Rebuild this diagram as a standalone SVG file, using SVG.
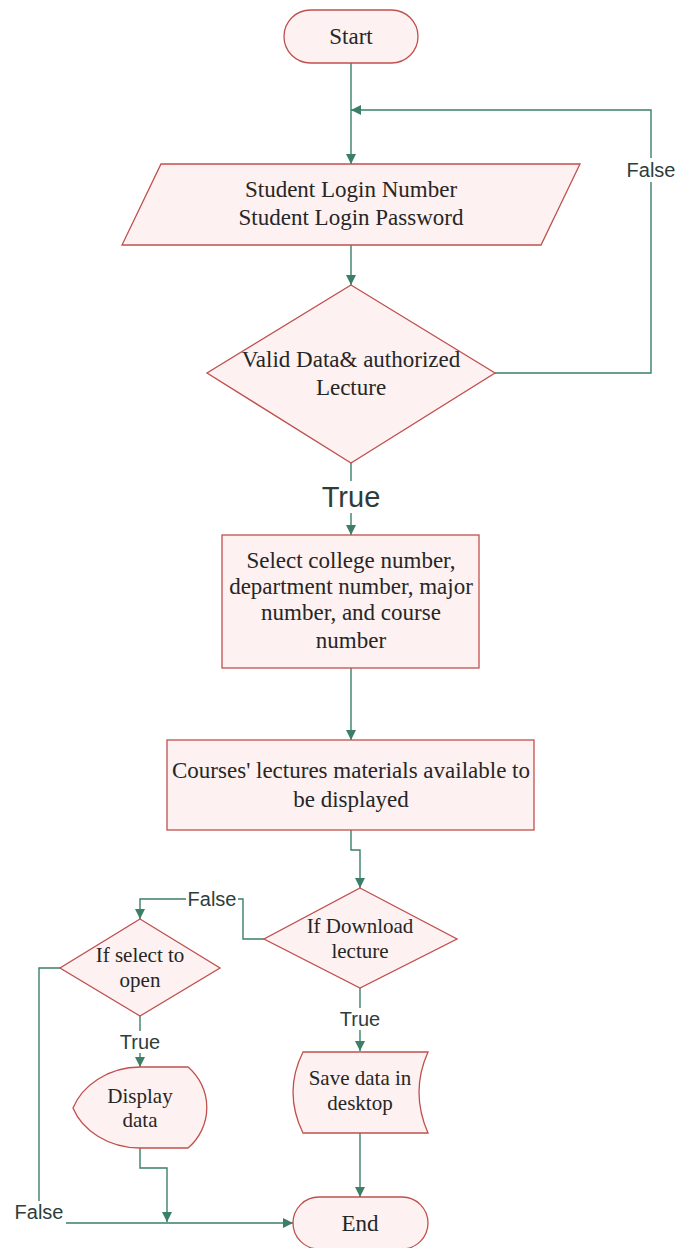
<svg xmlns="http://www.w3.org/2000/svg" width="680" height="1248" viewBox="0 0 680 1248">
  <style>
    .node { fill: #fdf1f1; stroke: #c0504d; stroke-width: 1.3; }
    .txt { font-family: "Liberation Serif", "Times New Roman", serif; font-size: 23px; fill: #262626; text-anchor: middle; }
    .sm { font-size: 21px; }
    .edge { fill: none; stroke: #3b8066; stroke-width: 1.4; }
    .lbl { font-family: "Liberation Sans", Arial, sans-serif; font-size: 20px; fill: #2e3d38; text-anchor: middle; }
    .lblbg { fill: #ffffff; }
  </style>
  <defs>
    <marker id="arrow" viewBox="0 0 10 10" refX="10" refY="5" markerWidth="10" markerHeight="10" markerUnits="userSpaceOnUse" orient="auto">
      <path d="M0,0 L10,5 L0,10 Z" fill="#3b8066"/>
    </marker>
  </defs>
  <rect width="680" height="1248" fill="#ffffff"/>

  <g id="connectors">
    <!-- Start to login input -->
    <path class="edge" d="M351,63 V164" marker-end="url(#arrow)"/>
    <!-- input to validation -->
    <path class="edge" d="M351,245 V285" marker-end="url(#arrow)"/>
    <!-- validation false loop back -->
    <path class="edge" d="M495,373 H651 V110 H351" marker-end="url(#arrow)"/>
    <!-- validation true -->
    <path class="edge" d="M351,463 V535" marker-end="url(#arrow)"/>
    <!-- select to materials -->
    <path class="edge" d="M351,668 V740" marker-end="url(#arrow)"/>
    <!-- materials to download decision -->
    <path class="edge" d="M351,830 V850 H360 V888" marker-end="url(#arrow)"/>
    <!-- download false to open decision -->
    <path class="edge" d="M264,939 H243 V899 H140 V919" marker-end="url(#arrow)"/>
    <!-- download true to save -->
    <path class="edge" d="M360,988 V1051" marker-end="url(#arrow)"/>
    <!-- save to End -->
    <path class="edge" d="M360,1133 V1197" marker-end="url(#arrow)"/>
    <!-- open true to display -->
    <path class="edge" d="M140,1016 V1067" marker-end="url(#arrow)"/>
    <!-- display to End line -->
    <path class="edge" d="M140,1148 V1168 H167 V1222" marker-end="url(#arrow)"/>
    <!-- open false to End -->
    <path class="edge" d="M60,968 H39 V1223 H293" marker-end="url(#arrow)"/>

    <!-- labels -->
    <rect class="lblbg" x="624" y="158" width="54" height="24"/>
    <text class="lbl" x="651" y="177">False</text>
    <rect class="lblbg" x="318" y="481" width="66" height="32"/>
    <text class="lbl" x="351" y="507" style="font-size:29px">True</text>
    <rect class="lblbg" x="186" y="888" width="52" height="22"/>
    <text class="lbl" x="212" y="906">False</text>
    <rect class="lblbg" x="336" y="1008" width="48" height="22"/>
    <text class="lbl" x="360" y="1026">True</text>
    <rect class="lblbg" x="116" y="1031" width="48" height="22"/>
    <text class="lbl" x="140" y="1049">True</text>
    <rect class="lblbg" x="12" y="1201" width="54" height="24"/>
    <text class="lbl" x="39" y="1219">False</text>
  </g>

  <g id="start">
    <rect class="node" x="284" y="10" width="134" height="53" rx="26.5"/>
    <text class="txt" x="351" y="44">Start</text>
  </g>

  <g id="login-input">
    <polygon class="node" points="161,164 580,164 541,245 122,245"/>
    <text class="txt" x="351" y="197">Student Login Number</text>
    <text class="txt" x="351" y="225">Student Login Password</text>
  </g>

  <g id="validate">
    <polygon class="node" points="351,285 495,373 351,463 207,373"/>
    <text class="txt" x="351" y="367">Valid Data&amp; authorized</text>
    <text class="txt" x="351" y="395">Lecture</text>
  </g>

  <g id="select-course">
    <rect class="node" x="222" y="535" width="257" height="133"/>
    <text class="txt" x="351" y="568">Select college number,</text>
    <text class="txt" x="351" y="594">department number, major</text>
    <text class="txt" x="351" y="620">number, and course</text>
    <text class="txt" x="351" y="648">number</text>
  </g>

  <g id="materials">
    <rect class="node" x="167" y="740" width="367" height="90"/>
    <text class="txt" x="351" y="778">Courses' lectures materials available to</text>
    <text class="txt" x="351" y="807">be displayed</text>
  </g>

  <g id="download-decision">
    <polygon class="node" points="360,888 457,939 360,988 264,939"/>
    <text class="txt sm" x="360" y="933">If Download</text>
    <text class="txt sm" x="360" y="958">lecture</text>
  </g>

  <g id="open-decision">
    <polygon class="node" points="140,919 220,968 140,1016 60,968"/>
    <text class="txt sm" x="140" y="962">If select to</text>
    <text class="txt sm" x="140" y="987">open</text>
  </g>

  <g id="display-data">
    <path class="node" d="M188,1067 A53,53 0 0 1 188,1148 H140 C108,1148 82,1130 73,1108 C82,1086 108,1067 140,1067 Z"/>
    <text class="txt sm" x="140" y="1103">Display</text>
    <text class="txt sm" x="140" y="1127">data</text>
  </g>

  <g id="save-data">
    <path class="node" d="M303,1052 H428 Q410,1092 428,1133 H303 Q283,1092 303,1052 Z"/>
    <text class="txt sm" x="360" y="1085">Save data in</text>
    <text class="txt sm" x="360" y="1110">desktop</text>
  </g>

  <g id="end">
    <rect class="node" x="293" y="1197" width="135" height="52" rx="26"/>
    <text class="txt" x="360" y="1231">End</text>
  </g>
</svg>
